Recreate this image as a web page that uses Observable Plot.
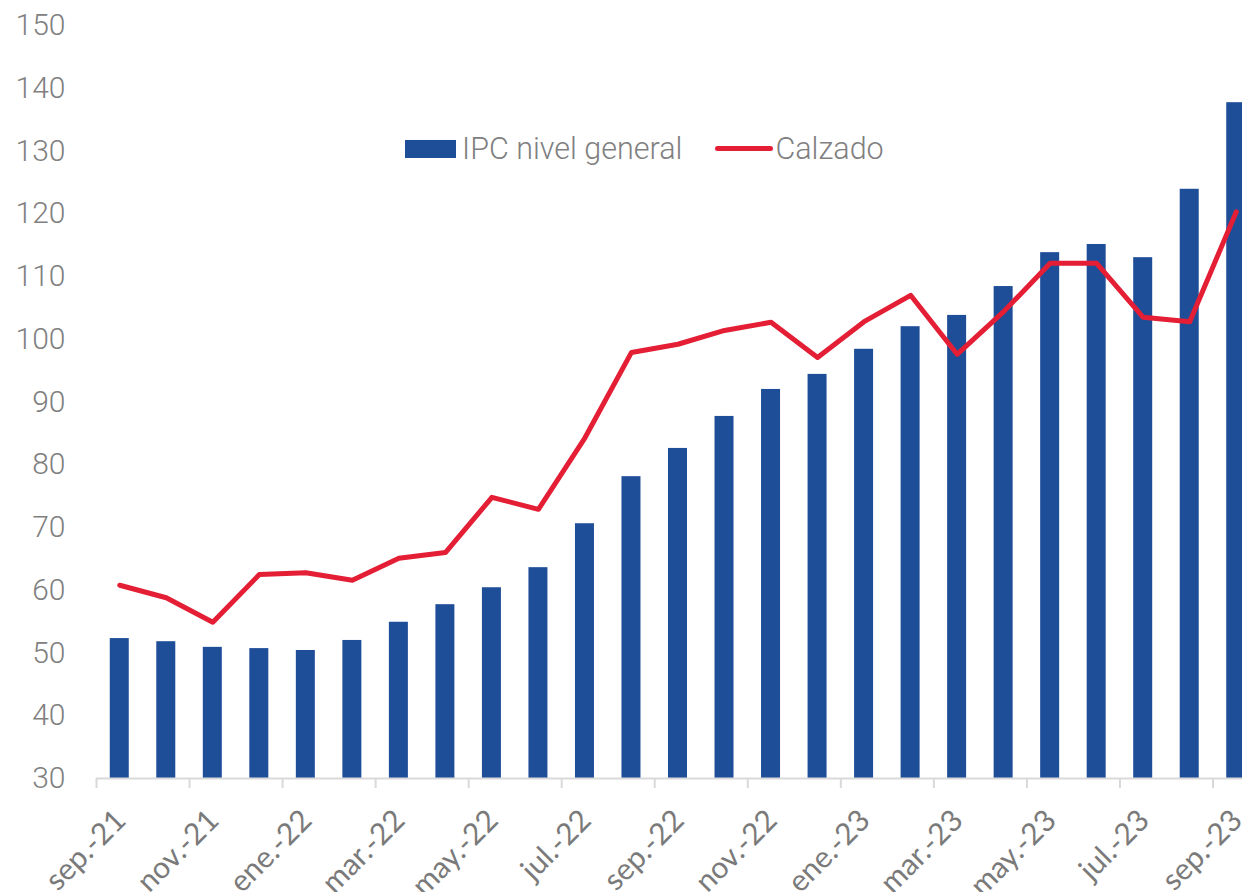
<!DOCTYPE html>
<html>
<head>
<meta charset="utf-8">
<script src="https://cdn.jsdelivr.net/npm/d3@7"></script>
<script src="https://cdn.jsdelivr.net/npm/@observablehq/plot@0.6"></script>
<style>
  html, body { margin: 0; padding: 0; background: #ffffff; }
  #wrap { position: relative; width: 1242px; height: 892px; overflow: hidden; }
  #legend { position: absolute; top: 131px; left: 405px; display: flex; align-items: center;
    font-family: Roboto, "Open Sans", sans-serif; font-weight: 300; font-size: 30.5px; color: #808080; white-space: nowrap; }
  .sw-bar { width: 51px; height: 18px; background: #1f4e99; margin-right: 6px; }
  .sw-line { width: 58px; height: 5px; border-radius: 3px; background: #e41e34; margin-left: 33px; margin-right: 2px; }
</style>
</head>
<body>
<div id="wrap">
  <div id="chart"></div>
  <div id="legend">
    <div class="sw-bar"></div><span>IPC nivel general</span>
    <div class="sw-line"></div><span>Calzado</span>
  </div>
</div>
<script>
const months = ["sep.-21","oct.-21","nov.-21","dic.-21","ene.-22","feb.-22","mar.-22","abr.-22","may.-22","jun.-22","jul.-22","ago.-22","sep.-22","oct.-22","nov.-22","dic.-22","ene.-23","feb.-23","mar.-23","abr.-23","may.-23","jun.-23","jul.-23","ago.-23","sep.-23"];
const ipcGeneral = [52.3, 51.8, 50.9, 50.7, 50.4, 52.0, 54.9, 57.7, 60.4, 63.6, 70.6, 78.1, 82.6, 87.7, 92.0, 94.4, 98.4, 102.0, 103.8, 108.4, 113.8, 115.1, 113.0, 123.9, 137.7];
const calzado = [60.8, 58.8, 54.9, 62.5, 62.8, 61.6, 65.1, 66.0, 74.8, 72.9, 84.3, 97.9, 99.2, 101.4, 102.7, 97.1, 102.8, 107.0, 97.6, 104.4, 112.1, 112.1, 103.5, 102.8, 120.3];
const tickLabels = ["sep.-21","nov.-21","ene.-22","mar.-22","may.-22","jul.-22","sep.-22","nov.-22","ene.-23","mar.-23","may.-23","jul.-23","sep.-23"];
const yTicks = [30, 40, 50, 60, 70, 80, 90, 100, 110, 120, 130, 140, 150];

const data = months.map((m, i) => ({m, ipc: ipcGeneral[i], calz: calzado[i]}));

const W = 1242, mL = 96, step = 46.52;
const mR = W - (mL + step * months.length);
const barInset = (step - 19) / 2;

const chart = Plot.plot({
  width: W,
  height: 892,
  marginLeft: mL,
  marginRight: mR,
  marginTop: 25,
  marginBottom: 114,
  style: {background: "white", overflow: "hidden"},
  x: {type: "band", domain: months, padding: 0, round: false, range: [mL, mL + step * months.length], label: null},
  y: {domain: [30, 150], label: null},
  marks: [
    Plot.barY(data, {x: "m", y1: 30, y2: "ipc", fill: "#1f4e99", insetLeft: barInset, insetRight: barInset}),
    Plot.ruleY([30], {stroke: "#d9d9d9", strokeWidth: 2}),
    Plot.axisY({ticks: yTicks, tickSize: 0, tickPadding: 31, fontSize: 30, fill: "#808080",
      fontWeight: 300, fontFamily: "Roboto", label: null}),
    Plot.axisX({ticks: tickLabels, tickSize: 10, tickFormat: () => "", stroke: "#d9d9d9", strokeWidth: 2, dx: -step / 2, label: null}),
    Plot.axisX({ticks: tickLabels, tickSize: 0, tickRotate: -45, tickPadding: 37, fontSize: 30, dx: 1,
      fill: "#7a7a7a", fontFamily: "Lato, 'Open Sans', sans-serif", label: null}),
    Plot.lineY(data, {x: "m", y: "calz", stroke: "#e41e34", strokeWidth: 5, strokeLinejoin: "round", strokeLinecap: "round"})
  ]
});
document.getElementById("chart").appendChild(chart);
</script>
</body>
</html>
